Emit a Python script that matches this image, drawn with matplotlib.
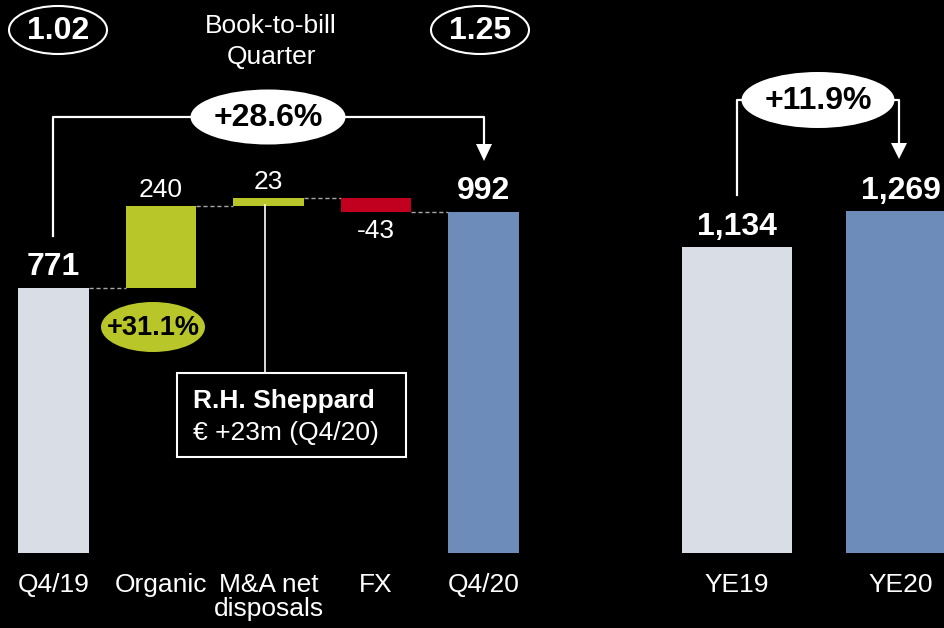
import numpy as np
import matplotlib.pyplot as plt
from matplotlib.patches import Ellipse, Rectangle, Polygon

plt.rcParams['font.family'] = ['Liberation Sans', 'DejaVu Sans']

# data
q_cats = ["Q4/19", "Organic", "M&A net\ndisposals", "FX", "Q4/20"]
q_start = 771
q_deltas = [240, 23, -43]
q_end = 992
q_delta_labels = ["240", "23", "-43"]

y_cats = ["YE19", "YE20"]
y_vals = [1134, 1269]
y_labels = ["1,134", "1,269"]

btb_labels = ["1.02", "1.25"]
q_growth = "+28.6%"
organic_growth = "+31.1%"
y_growth = "+11.9%"

c_gray = "#d9dde6"
c_green = "#b8c62a"
c_red = "#c0001e"
c_blue = "#6e8cba"
c_dash = "#a6a6a6"

W, H = 945, 628
fig = plt.figure(figsize=(W / 100, H / 100), dpi=100, facecolor="black")

base_px = 553
rect = [0, (H - base_px) / H, 1, base_px / H]

# SECTION 1: quarter waterfall
ax = fig.add_axes(rect)
ax.set_facecolor("none")
step = 107.5
x0 = 53.5
ax.set_xlim(-x0 / step, (W - x0) / step)
ax.set_ylim(0, base_px / (265 / 771))

bw = 0.66
xs = np.arange(len(q_cats))
ax.bar(xs[0], q_start, width=bw, color=c_gray, zorder=2)
level = q_start
levels = [q_start]
for i, d in enumerate(q_deltas):
    col = c_green if d > 0 else c_red
    ax.bar(xs[i + 1], d, bottom=level, width=bw, color=col, zorder=2)
    level += d
    levels.append(level)
ax.bar(xs[-1], q_end, width=bw, color=c_blue, zorder=2)

# dashed connectors
for i, lv in enumerate(levels):
    ax.plot([xs[i] + bw / 2, xs[i + 1] - bw / 2], [lv, lv], color=c_dash,
            lw=1, dashes=(3, 2), zorder=1)

bold = dict(color="white", fontsize=23, fontweight="bold", ha="center")
norm = dict(color="white", fontsize=19, ha="center")
ax.annotate(str(q_start), (xs[0], q_start), xytext=(0, 4), textcoords="offset points",
            va="bottom", **bold)
ax.annotate(str(q_end), (xs[-1], q_end), xytext=(0, 4), textcoords="offset points",
            va="bottom", **bold)
lv = q_start
for i, d in enumerate(q_deltas):
    top = lv + max(d, 0)
    bot = lv + min(d, 0)
    if d > 0:
        ax.annotate(q_delta_labels[i], (xs[i + 1], top), xytext=(0, 2.5),
                    textcoords="offset points", va="bottom", **norm)
    else:
        ax.annotate(q_delta_labels[i], (xs[i + 1], bot), xytext=(0, -5),
                    textcoords="offset points", va="top", **norm)
    lv += d

ax.set_xticks(xs)
ax.set_xticklabels(q_cats, color="white", fontsize=19, linespacing=1.0)
ax.tick_params(axis="x", length=0, pad=14.5)
ax.set_yticks([])
for s in ax.spines.values():
    s.set_visible(False)

# SECTION 2: full year bars
ax2 = fig.add_axes(rect)
ax2.set_facecolor("none")
step2 = 164
x02 = 737
ax2.set_xlim(-x02 / step2, (W - x02) / step2)
ax2.set_ylim(0, base_px / (306 / 1134))
xs2 = np.arange(len(y_cats))
ax2.bar(xs2, y_vals, width=0.67, color=[c_gray, c_blue], zorder=2)
for x, v, lab in zip(xs2, y_vals, y_labels):
    ax2.annotate(lab, (x, v), xytext=(0, 3.5), textcoords="offset points",
                 va="bottom", **bold)
ax2.set_xticks(xs2)
ax2.set_xticklabels(y_cats, color="white", fontsize=19)
ax2.tick_params(axis="x", length=0, pad=14.5)
ax2.set_yticks([])
for s in ax2.spines.values():
    s.set_visible(False)

# SECTION 3: annotations (pixel overlay)
ov = fig.add_axes([0, 0, 1, 1])
ov.set_xlim(0, W)
ov.set_ylim(H, 0)
ov.axis("off")
ov.set_facecolor("none")

# book-to-bill
for (cx, lab) in zip([58, 480], btb_labels):
    ov.add_patch(Ellipse((cx, 30), 98, 48, facecolor="black", edgecolor="white", lw=1.5))
    ov.text(cx, 31, lab, color="white", fontsize=23, fontweight="bold",
            ha="center", va="center")
ov.text(271, 26, "Book-to-bill", color="white", fontsize=19, ha="center", va="center")
ov.text(271, 57, "Quarter", color="white", fontsize=19, ha="center", va="center")

# quarter bracket
ov.plot([53, 53, 484, 484], [236, 117, 117, 146], color="white", lw=1.6)
ov.add_patch(Polygon([[476, 144], [492, 144], [484, 161]], closed=True,
                     facecolor="white", edgecolor="none"))
ov.add_patch(Ellipse((268, 117), 155, 55, facecolor="white", edgecolor="none"))
ov.text(268, 118, q_growth, color="black", fontsize=23, fontweight="bold",
        ha="center", va="center")

# organic growth
ov.add_patch(Ellipse((153, 327), 104, 50, facecolor=c_green, edgecolor="none"))
ov.text(153, 328, organic_growth, color="black", fontsize=19.5, fontweight="bold",
        ha="center", va="center")

# acquisition callout
ov.plot([265, 265], [205, 373], color="white", lw=1.2)
ov.add_patch(Rectangle((177, 373), 229, 84, facecolor="black", edgecolor="white", lw=1.5))
ov.text(193, 401, "R.H. Sheppard", color="white", fontsize=19, fontweight="bold",
        ha="left", va="center")
ov.text(193, 433, "€ +23m (Q4/20)", color="white", fontsize=19,
        ha="left", va="center")

# year bracket
ov.plot([737, 737, 899, 899], [195, 100, 100, 144], color="white", lw=1.6)
ov.add_patch(Polygon([[891, 143], [907, 143], [899, 159]], closed=True,
                     facecolor="white", edgecolor="none"))
ov.add_patch(Ellipse((818, 100), 153, 56, facecolor="white", edgecolor="none"))
ov.text(818, 101, y_growth, color="black", fontsize=23, fontweight="bold",
        ha="center", va="center")

fig.savefig("out.png", dpi=100, facecolor="black")
